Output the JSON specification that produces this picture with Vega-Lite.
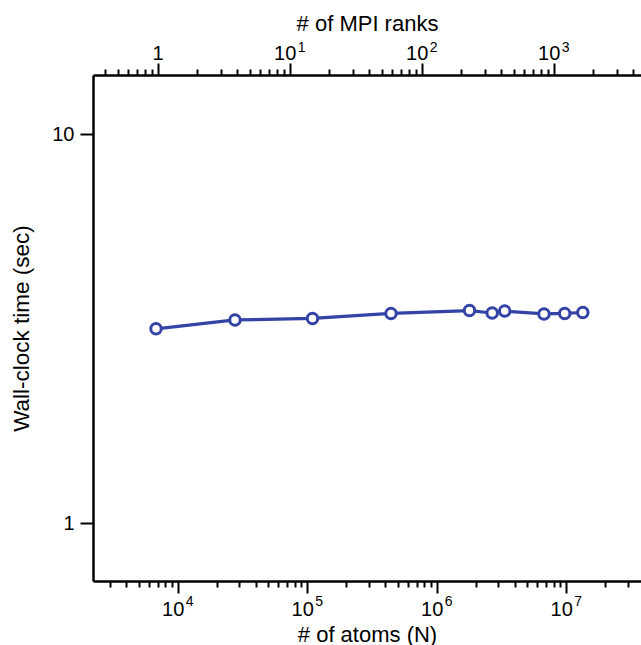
{
  "$schema": "https://vega.github.io/schema/vega-lite/v6.json",
  "width": 548,
  "height": 506,
  "autosize": "none",
  "padding": {"left": 93, "top": 75, "right": 0, "bottom": 64},
  "background": "white",
  "config": {
    "view": {"stroke": null},
    "font": "Liberation Sans",
    "axis": {
      "grid": false,
      "domainColor": "black",
      "domainWidth": 2.5,
      "tickColor": "black",
      "tickWidth": 2,
      "labelColor": "black",
      "titleColor": "black",
      "labelFont": "Liberation Sans",
      "titleFont": "Liberation Sans",
      "labelFontSize": 20,
      "titleFontSize": 22,
      "titleFontWeight": "normal",
      "labelOverlap": false,
      "labelFlush": false
    }
  },
  "data": {
    "values": [
      {"atoms": 6800, "ranks": 1, "time": 3.16},
      {"atoms": 27700, "ranks": 4, "time": 3.33},
      {"atoms": 109900, "ranks": 16, "time": 3.36},
      {"atoms": 443800, "ranks": 64, "time": 3.46},
      {"atoms": 1792000, "ranks": 256, "time": 3.52},
      {"atoms": 2683000, "ranks": 343, "time": 3.47},
      {"atoms": 3351000, "ranks": 432, "time": 3.51},
      {"atoms": 6740000, "ranks": 864, "time": 3.45},
      {"atoms": 9740000, "ranks": 1296, "time": 3.46},
      {"atoms": 13440000, "ranks": 1728, "time": 3.48}
    ]
  },
  "encoding": {
    "y": {
      "field": "time",
      "type": "quantitative",
      "scale": {"type": "log", "domain": [0.7109, 14.18], "nice": false},
      "axis": {
        "orient": "left",
        "values": [1, 10],
        "labelExpr": "datum.value == 1 ? '1' : '10'",
        "tickSize": 13,
        "labelPadding": 6,
        "title": "Wall-clock time (sec)",
        "titleFontSize": 22.5,
        "titlePadding": 18
      }
    }
  },
  "layer": [
    {
      "encoding": {
        "x": {
          "field": "atoms",
          "type": "quantitative",
          "scale": {"type": "log", "domain": [2218, 37820000], "nice": false},
          "axis": {
            "orient": "bottom",
            "title": "# of atoms (N)",
            "values": [3000, 4000, 5000, 6000, 7000, 8000, 9000, 10000, 20000, 30000, 40000, 50000, 60000, 70000, 80000, 90000, 100000, 200000, 300000, 400000, 500000, 600000, 700000, 800000, 900000, 1000000, 2000000, 3000000, 4000000, 5000000, 6000000, 7000000, 8000000, 9000000, 10000000, 20000000, 30000000],
            "tickSize": {"condition": {"test": "abs(log(datum.value)/LN10 - round(log(datum.value)/LN10)) < 0.001", "value": 12}, "value": 6},
            "labelExpr": "datum.value == 10000 || datum.value == 100000 || datum.value == 1000000 || datum.value == 10000000 ? '10' : ''",
            "labelOffset": -5,
            "labelPadding": 6,
            "titlePadding": 5
          }
        }
      },
      "layer": [
        {"mark": {"type": "line", "color": "#3343a6", "strokeWidth": 3.2}},
        {"mark": {"type": "point", "shape": "circle", "filled": true, "fill": "white", "stroke": "#3343a6", "strokeWidth": 3, "size": 110, "opacity": 1}}
      ]
    },
    {
      "mark": {"type": "point", "opacity": 0},
      "encoding": {
        "x": {
          "field": "atoms",
          "type": "quantitative",
          "scale": {"type": "log", "domain": [2218, 37820000], "nice": false},
          "axis": {
            "orient": "bottom",
            "title": null,
            "domain": false,
            "values": [10000, 100000, 1000000, 10000000],
            "tickSize": 12,
            "tickOpacity": 0,
            "labelExpr": "datum.value == 10000 ? '4' : datum.value == 100000 ? '5' : datum.value == 1000000 ? '6' : '7'",
            "labelFontSize": 14,
            "labelOffset": 11.5,
            "labelPadding": 1
          }
        }
      }
    },
    {
      "mark": {"type": "point", "opacity": 0},
      "encoding": {
        "x": {
          "field": "ranks",
          "type": "quantitative",
          "scale": {"type": "log", "domain": [0.3236, 4586], "nice": false},
          "axis": {
            "orient": "top",
            "title": "# of MPI ranks",
            "values": [0.4, 0.5, 0.6, 0.7, 0.8, 0.9, 1, 2, 3, 4, 5, 6, 7, 8, 9, 10, 20, 30, 40, 50, 60, 70, 80, 90, 100, 200, 300, 400, 500, 600, 700, 800, 900, 1000, 2000, 3000, 4000],
            "tickSize": {"condition": {"test": "abs(log(datum.value)/LN10 - round(log(datum.value)/LN10)) < 0.001", "value": 12}, "value": 6},
            "labelExpr": "datum.value == 1 ? '1' : datum.value == 10 || datum.value == 100 || datum.value == 1000 ? '10' : ''",
            "labelOffset": {"condition": {"test": "datum.value == 1", "value": 0}, "value": -5},
            "labelPadding": 0,
            "titlePadding": 8
          }
        }
      }
    },
    {
      "mark": {"type": "point", "opacity": 0},
      "encoding": {
        "x": {
          "field": "ranks",
          "type": "quantitative",
          "scale": {"type": "log", "domain": [0.3236, 4586], "nice": false},
          "axis": {
            "orient": "top",
            "title": null,
            "domain": false,
            "values": [10, 100, 1000],
            "tickSize": 12,
            "tickOpacity": 0,
            "labelExpr": "datum.value == 10 ? '1' : datum.value == 100 ? '2' : '3'",
            "labelFontSize": 14,
            "labelOffset": 11.5,
            "labelPadding": 9
          }
        }
      }
    }
  ],
  "resolve": {"scale": {"x": "independent"}, "axis": {"x": "independent"}}
}
